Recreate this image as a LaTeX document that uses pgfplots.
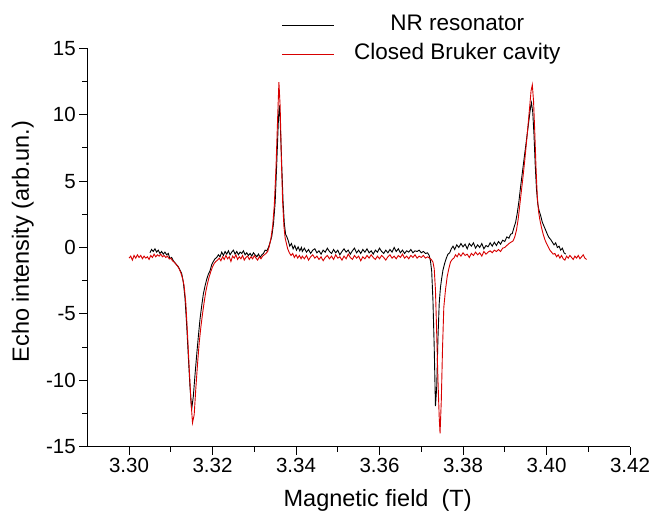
\documentclass[border=0pt]{standalone}
\usepackage{fontspec}
\setmainfont{Liberation Sans}
\usepackage{pgfplots}
\usepackage{pgfplotstable}
\pgfplotsset{compat=1.18}
\definecolor{nrblack}{RGB}{0,0,0}
\definecolor{brred}{RGB}{215,0,0}

\pgfplotstableread{
x y
3.3050 -0.40
3.3054 -0.15
3.3058 -0.30
3.3062 -0.10
3.3066 -0.35
3.3070 -0.20
3.3074 -0.45
3.3078 -0.30
3.3082 -0.50
3.3086 -0.35
3.3090 -0.55
3.3094 -0.45
3.3098 -0.85
3.3102 -0.75
3.3106 -1.00
3.3110 -1.15
3.3114 -1.30
3.3118 -1.45
3.3122 -1.70
3.3126 -1.95
3.3130 -2.60
3.3134 -3.80
3.3138 -5.80
3.3142 -8.20
3.3146 -10.50
3.3150 -12.20
3.3154 -11.20
3.3158 -9.60
3.3162 -8.10
3.3166 -6.70
3.3170 -5.40
3.3174 -4.40
3.3178 -3.50
3.3182 -2.90
3.3186 -2.40
3.3190 -2.00
3.3194 -1.75
3.3198 -1.30
3.3202 -1.05
3.3206 -0.85
3.3210 -0.75
3.3214 -0.55
3.3218 -0.70
3.3222 -0.35
3.3226 -0.60
3.3230 -0.30
3.3234 -0.50
3.3238 -0.25
3.3242 -0.55
3.3246 -0.35
3.3250 -0.20
3.3254 -0.50
3.3258 -0.30
3.3262 -0.55
3.3266 -0.35
3.3270 -0.45
3.3274 -0.25
3.3278 -0.55
3.3282 -0.40
3.3286 -0.60
3.3290 -0.45
3.3294 -0.65
3.3298 -0.40
3.3302 -0.55
3.3306 -0.70
3.3310 -0.50
3.3314 -0.75
3.3318 -0.55
3.3322 -0.45
3.3326 -0.20
3.3330 -0.25
3.3334 0.00
3.3338 0.40
3.3342 0.85
3.3346 1.80
3.3350 3.40
3.3354 6.50
3.3358 9.80
3.3360 10.70
3.3362 9.60
3.3366 6.00
3.3369 3.40
3.3372 1.80
3.3375 1.00
3.3378 0.80
3.3381 0.55
3.3385 0.10
3.3389 0.30
3.3393 -0.10
3.3397 0.15
3.3401 -0.20
3.3405 0.05
3.3409 -0.25
3.3413 0.00
3.3415 -0.30
3.3420 -0.05
3.3425 -0.35
3.3430 -0.15
3.3435 -0.45
3.3440 -0.20
3.3445 -0.10
3.3450 -0.40
3.3455 -0.25
3.3460 -0.50
3.3465 -0.20
3.3470 -0.35
3.3475 -0.05
3.3480 -0.30
3.3485 -0.45
3.3490 -0.15
3.3495 -0.40
3.3500 -0.20
3.3505 -0.55
3.3510 -0.30
3.3515 -0.10
3.3520 -0.35
3.3525 -0.20
3.3530 -0.50
3.3535 -0.25
3.3540 -0.05
3.3545 -0.40
3.3550 -0.20
3.3555 -0.45
3.3560 -0.15
3.3565 -0.35
3.3570 -0.10
3.3575 -0.40
3.3580 -0.25
3.3585 -0.50
3.3590 -0.20
3.3595 -0.35
3.3600 -0.05
3.3605 -0.30
3.3610 -0.45
3.3615 -0.20
3.3620 -0.40
3.3625 -0.15
3.3630 -0.35
3.3635 0.00
3.3640 -0.30
3.3645 -0.10
3.3650 -0.40
3.3655 -0.20
3.3660 -0.45
3.3665 -0.25
3.3670 -0.35
3.3675 -0.15
3.3680 -0.40
3.3685 -0.25
3.3690 -0.30
3.3695 -0.20
3.3700 -0.40
3.3705 -0.30
3.3710 -0.45
3.3715 -0.40
3.3719 -0.60
3.3722 -1.00
3.3725 -1.80
3.3728 -4.00
3.3731 -7.50
3.3734 -11.95
3.3737 -10.50
3.3740 -6.80
3.3743 -4.20
3.3746 -3.00
3.3749 -2.30
3.3752 -1.70
3.3756 -1.20
3.3760 -0.80
3.3764 -0.50
3.3768 -0.40
3.3772 -0.10
3.3776 0.10
3.3780 -0.15
3.3785 0.20
3.3790 0.00
3.3795 0.30
3.3800 0.05
3.3805 0.25
3.3810 -0.10
3.3815 0.30
3.3820 0.10
3.3825 0.35
3.3830 -0.05
3.3835 0.20
3.3840 0.00
3.3845 0.30
3.3850 -0.10
3.3855 0.15
3.3860 0.05
3.3865 0.35
3.3870 0.10
3.3875 0.40
3.3880 0.15
3.3885 0.45
3.3890 0.25
3.3895 0.55
3.3900 0.45
3.3905 0.80
3.3910 0.70
3.3914 1.00
3.3918 1.05
3.3922 1.50
3.3926 1.90
3.3930 2.60
3.3934 3.50
3.3938 4.60
3.3942 5.60
3.3946 6.60
3.3950 7.60
3.3954 8.60
3.3958 9.60
3.3962 10.60
3.3964 10.90
3.3967 10.20
3.3970 8.50
3.3973 6.20
3.3976 4.40
3.3979 3.30
3.3982 2.80
3.3986 2.40
3.3990 1.90
3.3994 1.60
3.3998 1.30
3.4002 1.00
3.4006 0.75
3.4010 0.60
3.4014 0.40
3.4018 0.20
3.4022 0.35
3.4026 0.00
3.4030 0.10
3.4034 -0.20
3.4038 -0.05
3.4042 -0.40
3.4046 -0.50
}\nrdata

\pgfplotstableread{
x y
3.3000 -0.80
3.3004 -0.65
3.3008 -0.95
3.3012 -0.60
3.3016 -0.80
3.3020 -0.55
3.3024 -0.75
3.3028 -0.60
3.3032 -0.85
3.3036 -0.65
3.3040 -0.80
3.3044 -0.70
3.3048 -0.90
3.3052 -0.60
3.3056 -0.75
3.3060 -0.50
3.3064 -0.70
3.3068 -0.55
3.3072 -0.65
3.3076 -0.50
3.3080 -0.70
3.3084 -0.60
3.3088 -0.75
3.3092 -0.65
3.3096 -0.85
3.3100 -0.80
3.3104 -1.00
3.3108 -1.10
3.3112 -1.25
3.3116 -1.40
3.3120 -1.60
3.3124 -1.90
3.3128 -2.30
3.3132 -2.90
3.3136 -4.20
3.3140 -6.50
3.3144 -9.00
3.3148 -11.40
3.3152 -13.20
3.3156 -12.60
3.3160 -10.60
3.3164 -8.80
3.3168 -7.20
3.3172 -6.00
3.3176 -5.00
3.3180 -4.10
3.3184 -3.30
3.3188 -2.70
3.3192 -2.20
3.3196 -1.80
3.3200 -1.45
3.3204 -1.20
3.3208 -1.05
3.3212 -0.95
3.3216 -0.80
3.3220 -1.00
3.3224 -0.70
3.3228 -0.90
3.3232 -0.60
3.3236 -0.85
3.3240 -0.70
3.3244 -1.05
3.3248 -0.65
3.3252 -0.80
3.3256 -0.55
3.3260 -0.90
3.3264 -0.70
3.3268 -0.85
3.3272 -0.60
3.3276 -0.95
3.3280 -0.75
3.3284 -0.65
3.3288 -0.90
3.3292 -0.70
3.3296 -0.85
3.3300 -0.60
3.3304 -0.80
3.3308 -0.95
3.3312 -0.70
3.3316 -0.85
3.3320 -0.65
3.3324 -0.55
3.3328 -0.45
3.3332 -0.30
3.3336 0.10
3.3340 0.70
3.3344 1.60
3.3348 3.20
3.3352 6.00
3.3356 9.80
3.3359 12.45
3.3362 10.60
3.3365 6.50
3.3368 3.40
3.3371 1.60
3.3374 0.70
3.3377 0.30
3.3380 -0.10
3.3384 -0.40
3.3388 -0.60
3.3392 -0.45
3.3396 -0.75
3.3400 -0.55
3.3404 -0.80
3.3408 -0.60
3.3412 -0.85
3.3415 -0.65
3.3420 -0.85
3.3425 -0.60
3.3430 -0.95
3.3435 -0.70
3.3440 -0.55
3.3445 -0.80
3.3450 -0.65
3.3455 -0.90
3.3460 -0.70
3.3465 -1.00
3.3470 -0.75
3.3475 -0.60
3.3480 -0.85
3.3485 -0.65
3.3490 -0.90
3.3495 -0.55
3.3500 -0.80
3.3505 -0.70
3.3510 -0.95
3.3515 -0.65
3.3520 -0.85
3.3525 -0.50
3.3530 -0.75
3.3535 -0.90
3.3540 -0.60
3.3545 -0.80
3.3550 -0.65
3.3555 -1.00
3.3560 -0.70
3.3565 -0.85
3.3570 -0.60
3.3575 -0.80
3.3580 -0.55
3.3585 -0.75
3.3590 -0.90
3.3595 -0.65
3.3600 -0.85
3.3605 -0.60
3.3610 -0.75
3.3615 -0.95
3.3620 -0.70
3.3625 -0.55
3.3630 -0.80
3.3635 -0.65
3.3640 -0.85
3.3645 -0.60
3.3650 -0.75
3.3655 -0.50
3.3660 -0.80
3.3665 -0.65
3.3670 -0.85
3.3675 -0.60
3.3680 -0.75
3.3685 -0.55
3.3690 -0.80
3.3695 -0.65
3.3700 -0.75
3.3705 -0.60
3.3710 -0.80
3.3715 -0.70
3.3720 -0.80
3.3724 -0.90
3.3728 -1.10
3.3731 -1.60
3.3734 -3.20
3.3737 -6.50
3.3740 -10.00
3.3743 -12.80
3.3745 -14.00
3.3748 -11.50
3.3751 -7.50
3.3754 -4.50
3.3758 -3.20
3.3762 -2.20
3.3766 -1.60
3.3770 -1.10
3.3774 -0.90
3.3778 -0.80
3.3782 -0.55
3.3786 -0.70
3.3790 -0.45
3.3795 -0.65
3.3800 -0.40
3.3805 -0.60
3.3810 -0.50
3.3815 -0.75
3.3820 -0.45
3.3825 -0.60
3.3830 -0.35
3.3835 -0.55
3.3840 -0.40
3.3845 -0.65
3.3850 -0.30
3.3855 -0.50
3.3860 -0.35
3.3865 -0.25
3.3870 -0.40
3.3875 -0.20
3.3880 -0.30
3.3885 -0.15
3.3890 -0.30
3.3895 -0.05
3.3900 0.00
3.3905 0.15
3.3910 0.30
3.3915 0.40
3.3920 0.50
3.3924 0.80
3.3928 1.30
3.3932 2.10
3.3936 3.20
3.3940 4.30
3.3944 5.40
3.3948 6.60
3.3952 7.90
3.3956 9.30
3.3960 10.70
3.3963 11.80
3.3966 12.25
3.3969 11.00
3.3972 8.60
3.3975 5.90
3.3978 3.80
3.3981 2.70
3.3984 2.10
3.3988 1.50
3.3992 1.00
3.3996 0.60
3.4000 0.30
3.4004 0.05
3.4008 -0.20
3.4012 -0.35
3.4016 -0.50
3.4020 -0.45
3.4024 -0.70
3.4028 -0.55
3.4032 -0.80
3.4036 -0.60
3.4040 -0.85
3.4044 -0.95
3.4048 -0.65
3.4052 -0.80
3.4056 -0.60
3.4060 -0.75
3.4064 -0.90
3.4068 -0.65
3.4072 -0.80
3.4076 -0.60
3.4080 -0.85
3.4084 -0.70
3.4088 -0.55
3.4092 -0.80
3.4096 -0.90
}\brdata

\begin{document}
\begin{tikzpicture}
\useasboundingbox (-87.3pt,-66.3pt) rectangle (566.7pt,446.7pt);
\begin{axis}[
  at={(0pt,0pt)}, anchor=south west,
  width=542.7pt, height=398.4pt, scale only axis,
  xmin=3.29, xmax=3.42, ymin=-15, ymax=15,
  axis lines=left,
  axis line style={-, line width=0.8pt},
  tick align=outside,
  xtick={3.30,3.32,3.34,3.36,3.38,3.40,3.42},
  ytick={-15,-10,-5,0,5,10,15},
  minor x tick num=1, minor y tick num=1,
  major tick length=8pt, minor tick length=5pt,
  every tick/.style={black, line width=0.8pt},
  /pgf/number format/assume math mode=true,
  xticklabel style={/pgf/number format/fixed, /pgf/number format/fixed zerofill, /pgf/number format/precision=2},
  tick label style={font=\fontsize{20.5}{24}\selectfont},
  xlabel={Magnetic field\ \ (T)},
  ylabel={Echo intensity (arb.un.)},
  label style={font=\fontsize{23.5}{28}\selectfont},
  xlabel style={at={(axis description cs:0.535,-0.1506)}, anchor=base},
  ylabel style={at={(axis description cs:-0.1075,0.515)}, anchor=base, rotate=0},
  legend cell align=center,
  legend image code/.code={\path[draw=none] (0pt,0pt) -- (72pt,0pt); \draw[#1] (0pt,0pt) -- (52pt,0pt);},
  legend style={draw=none, fill=none, at={(axis description cs:0.358,1.0848)}, anchor=north west,
    inner sep=0pt, outer sep=0pt, row sep=8pt,
    nodes={inner sep=0pt, text height=16pt, text depth=5pt, font=\fontsize{22.5}{27}\selectfont}},
]
\addplot[nrblack, line width=0.9pt] table[x=x,y=y] {\nrdata};
\addlegendentry{NR resonator}
\addplot[brred, line width=0.9pt] table[x=x,y=y] {\brdata};
\addlegendentry{Closed Bruker cavity}
\end{axis}
\end{tikzpicture}
\end{document}
